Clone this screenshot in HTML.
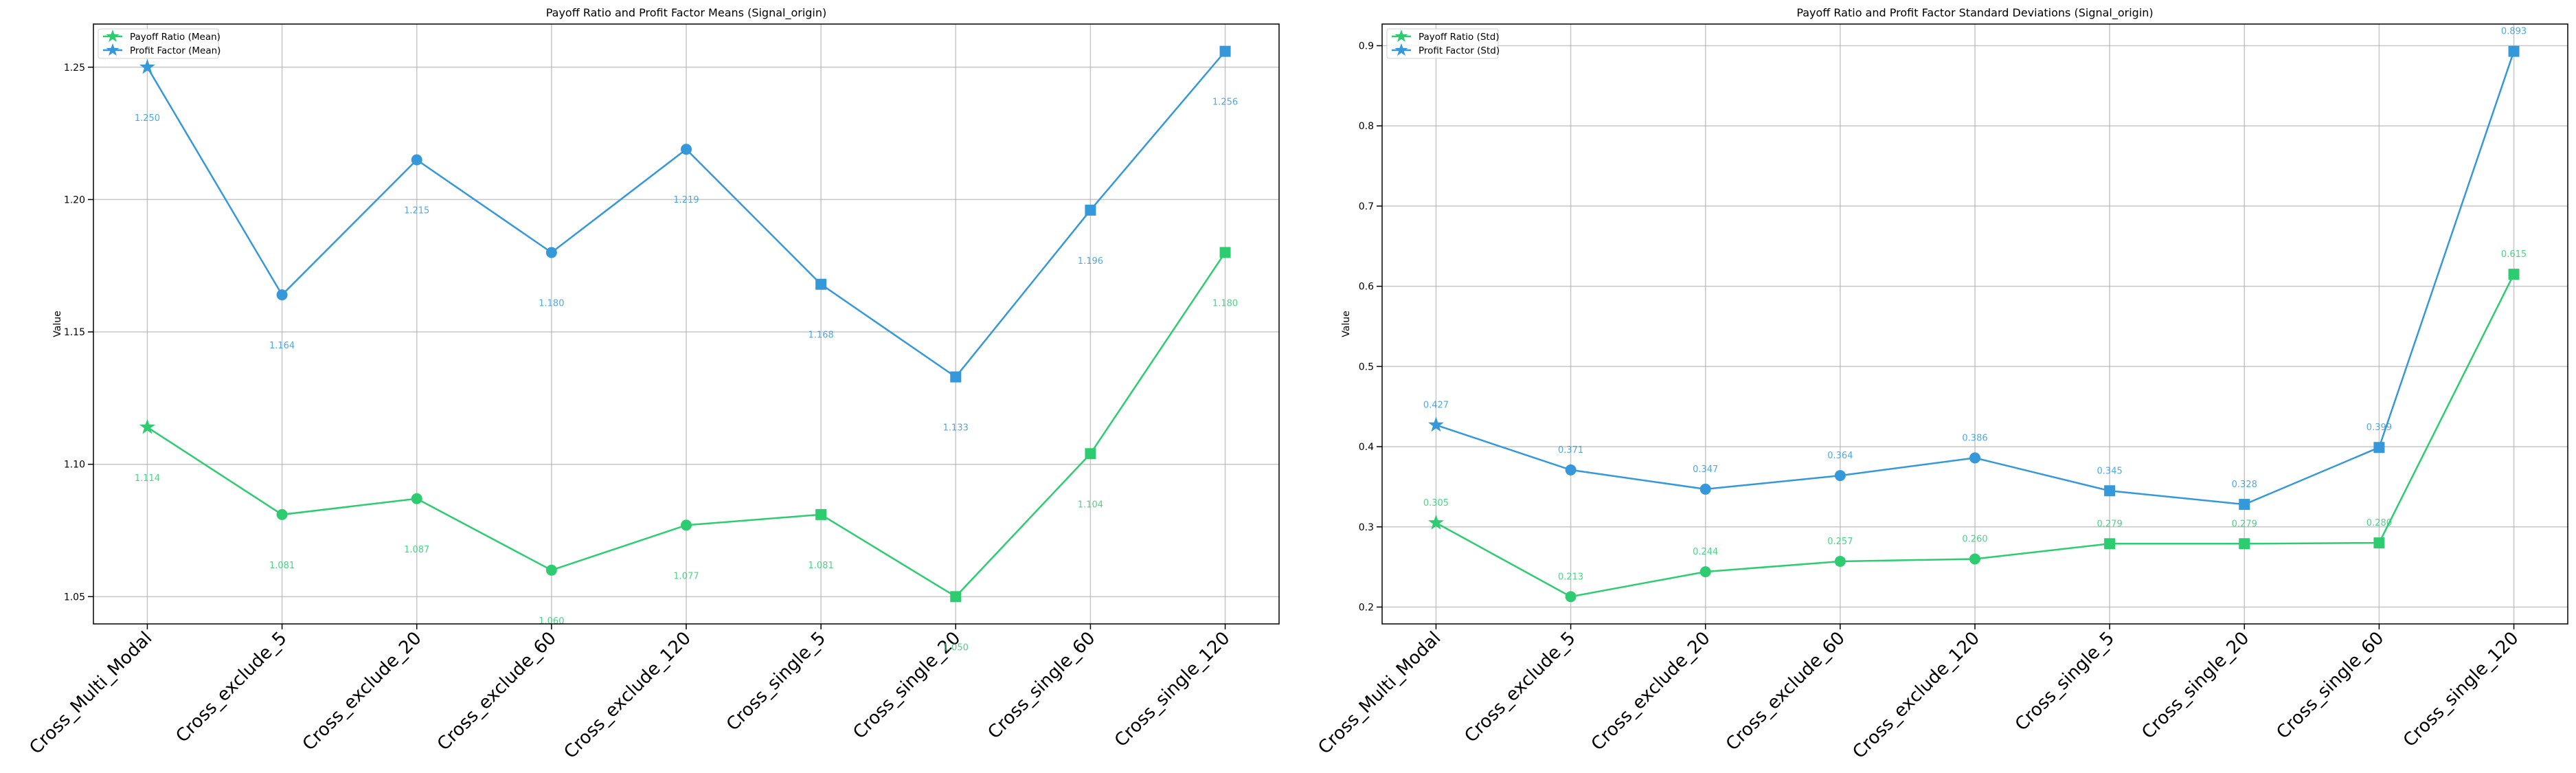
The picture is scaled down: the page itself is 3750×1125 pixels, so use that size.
<!DOCTYPE html>
<html><head><meta charset="utf-8"><style>
html,body{margin:0;padding:0;background:#fff}
svg{display:block;font-family:"DejaVu Sans","Liberation Sans",sans-serif}
</style></head><body>
<svg id="chart" width="3750" height="1125" viewBox="0 0 3750 1125" xmlns="http://www.w3.org/2000/svg"></svg>
<script>
const categories = ["Cross_Multi_Modal","Cross_exclude_5","Cross_exclude_20","Cross_exclude_60","Cross_exclude_120","Cross_single_5","Cross_single_20","Cross_single_60","Cross_single_120"];
const markerTypes = ["star","circle","circle","circle","circle","square","square","square","square"];
const meanPayoff = [1.114,1.081,1.087,1.060,1.077,1.081,1.050,1.104,1.180];
const meanProfit = [1.250,1.164,1.215,1.180,1.219,1.168,1.133,1.196,1.256];
const stdPayoff = [0.305,0.213,0.244,0.257,0.260,0.279,0.279,0.280,0.615];
const stdProfit = [0.427,0.371,0.347,0.364,0.386,0.345,0.328,0.399,0.893];
const meanTicks = [1.05,1.10,1.15,1.20,1.25];
const stdTicks = [0.2,0.3,0.4,0.5,0.6,0.7,0.8,0.9];

const NS = "http://www.w3.org/2000/svg";
const svg = document.getElementById("chart");
const GREEN = "#2ecc71", BLUE = "#3498db";
function mk(tag, attrs, parent){
  const e = document.createElementNS(NS, tag);
  for (const k in attrs) e.setAttribute(k, attrs[k]);
  (parent||svg).appendChild(e);
  return e;
}
function starPts(cx, cy, R){
  const r = R*0.4; let p=[];
  for(let i=0;i<10;i++){const a=-Math.PI/2+i*Math.PI/5;const rr=i%2?r:R;p.push((cx+rr*Math.cos(a)).toFixed(1)+","+(cy+rr*Math.sin(a)).toFixed(1));}
  return p.join(" ");
}
function marker(g, type, x, y, color){
  let e;
  if(type==="star") e = mk("polygon",{points:starPts(x,y,12),fill:color},g);
  else if(type==="circle") e = mk("circle",{cx:x,cy:y,r:8,fill:color},g);
  else e = mk("rect",{x:x-8,y:y-8,width:16,height:16,fill:color},g);
  return e;
}

function panel(opt){
  const {left,right,top,bottom,ymin,ymax,ticks,tickFmt,series,title,labelDy} = opt;
  const g = mk("g",{});
  
  
  const n = categories.length;
  const step = (right-left)/(n-1+0.8);
  const xs = i => left + step*(0.4+i);
  const ys = v => bottom - (v-ymin)/(ymax-ymin)*(bottom-top);
  categories.forEach((c,i)=>{
    const l = mk("line",{x1:xs(i),x2:xs(i),y1:top,y2:bottom,stroke:"#b0b0b0","stroke-width":1.5,opacity:0.7},g);
    
    
  });
  ticks.forEach(t=>{
    const l = mk("line",{x1:left,x2:right,y1:ys(t),y2:ys(t),stroke:"#b0b0b0","stroke-width":1.5,opacity:0.7},g);
    
    
    mk("line",{x1:left-8,x2:left,y1:ys(t),y2:ys(t),stroke:"#000","stroke-width":1.5},g);
    const tx = mk("text",{x:left-12,y:ys(t)+5,"text-anchor":"end","font-size":14,fill:"#000"},g);
    tx.textContent = tickFmt(t);
    
    
  });
  categories.forEach((c,i)=>{
    mk("line",{x1:xs(i),x2:xs(i),y1:bottom,y2:bottom+8,stroke:"#000","stroke-width":1.5},g);
    const tx = mk("text",{x:0,y:0,"text-anchor":"end","font-size":26,fill:"#000",transform:`translate(${xs(i)+8},${bottom+22}) rotate(-45)`},g);
    tx.textContent = c;
    
    
  });
  series.forEach(s=>{
    const sg = mk("g",{},g);
    
    
    const pts = s.values.map((v,i)=>xs(i).toFixed(1)+","+ys(v).toFixed(1)).join(" ");
    const pl = mk("polyline",{points:pts,fill:"none",stroke:s.color,"stroke-width":2.5},sg);
    
    
    s.values.forEach((v,i)=>{
      const m = marker(sg, markerTypes[i], xs(i), ys(v), s.color);
      
      
      const lb = mk("text",{x:xs(i),y:ys(v)+labelDy+5,"text-anchor":"middle","font-size":13,fill:s.color,opacity:0.85},sg);
      lb.textContent = v.toFixed(3);
      
      
    });
  });
  const fr = mk("rect",{x:left,y:top,width:right-left,height:bottom-top,fill:"none",stroke:"#000","stroke-width":1.5},g);
  
  
  const tt = mk("text",{x:(left+right)/2,y:24,"text-anchor":"middle","font-size":16,fill:"#000"},g);
  tt.textContent = title;
  
  
  const yl = mk("text",{x:0,y:0,"text-anchor":"middle","font-size":14,fill:"#000",transform:`translate(${left-48},${(top+bottom)/2}) rotate(-90)`},g);
  yl.textContent = "Value";
  
  
  const lg = mk("g",{},g);
  
  
  const lw = opt.legendW;
  mk("rect",{x:left+7,y:top+7,width:lw,height:43,rx:3,fill:"#fff","fill-opacity":0.8,stroke:"#d0d0d0","stroke-width":1},lg);
  series.forEach((s,k)=>{
    const yy = top+18+k*20;
    const e = mk("g",{},lg);
    
    
    mk("line",{x1:left+14,x2:left+42,y1:yy,y2:yy,stroke:s.color,"stroke-width":2.5},e);
    mk("polygon",{points:starPts(left+28,yy,10),fill:s.color},e);
    const t = mk("text",{x:left+53,y:yy+5,"font-size":13.5,fill:"#000"},e);
    t.textContent = s.label;
  });
}

panel({name:"mean-chart",left:136,right:1862,top:35,bottom:908,ymin:1.0397,ymax:1.2663,ticks:meanTicks,
  tickFmt:t=>t.toFixed(2),labelDy:73,legendW:175,
  title:"Payoff Ratio and Profit Factor Means (Signal_origin)",
  series:[{name:"payoff-mean-series",label:"Payoff Ratio (Mean)",color:GREEN,values:meanPayoff},
          {name:"profit-mean-series",label:"Profit Factor (Mean)",color:BLUE,values:meanProfit}]});
panel({name:"std-chart",left:2012,right:3738,top:35,bottom:908,ymin:0.179,ymax:0.927,ticks:stdTicks,
  tickFmt:t=>t.toFixed(1),labelDy:-30,legendW:162,
  title:"Payoff Ratio and Profit Factor Standard Deviations (Signal_origin)",
  series:[{name:"payoff-std-series",label:"Payoff Ratio (Std)",color:GREEN,values:stdPayoff},
          {name:"profit-std-series",label:"Profit Factor (Std)",color:BLUE,values:stdProfit}]});
</script>
</body></html>
